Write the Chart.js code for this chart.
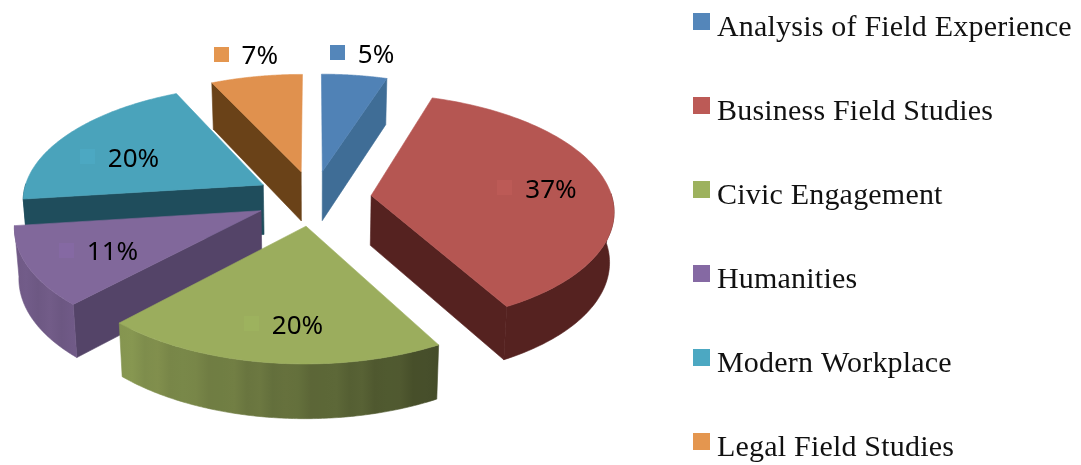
<!DOCTYPE html>
<html><head><meta charset="utf-8">
<style>html,body{margin:0;padding:0;background:#fff;overflow:hidden}#w{width:1081px;height:465px;position:relative}</style>
<script src="https://cdn.jsdelivr.net/npm/chart.js@4/dist/chart.umd.min.js"></script>
</head><body><div id="w"><canvas id="c"></canvas></div>
<script>
const categories = ['Analysis of Field Experience','Business Field Studies','Civic Engagement','Humanities','Modern Workplace','Legal Field Studies'];
const shares = [5,37,20,11,20,7];
const keyColors = ['#5486BA','#BC5A56','#9DB25E','#8569A3','#4CA8C2','#E4964F'];
const topColors = ['#5082B6','#B55652','#9BAD5D','#81689B','#4AA3BB','#E0914E'];
const cutColors = ['#3F6D96','#552220','#475727','#544468','#1F4D5C','#6A4218'];
const rimIsCut = [true,true,false,false,true,true];
const labelReach = [1.27,0.7,0.74,0.71,0.68,1.27];
const labelTurn = [0,0,-1,0,-6.5,0];
const paintOrder = [0,5,4,1,3,2];
const stripes = [0,0.025,-0.015,0.02,-0.02,0.01,0.02,-0.02];

const view = {cx:313.5, cy:198, sx:241, sy:114.5, persp:0.117, depth:50, depthPersp:0.07, taper:0.015};
function project(u,v,z){
  const s = 1/(1-view.persp*v);
  return [view.cx+view.sx*u*s*(1-view.taper*z), view.cy+view.sy*v*s + z*view.depth/(1-view.depthPersp*v)];
}
function rgb(hex){return [1,3,5].map(i=>parseInt(hex.substr(i,2),16));}
function shade(hex,f){return 'rgb('+rgb(hex).map(c=>Math.round(Math.min(255,c*f))).join(',')+')';}
function wallFactor(a){ // a: chart angle; u=cos a, v=sin a
  const u=Math.cos(a);
  if(u<-0.68) return 0.86;
  if(u<0) return 0.62+(0.86-0.62)*(-u/0.68);
  if(u<0.485) return 0.62-(0.62-0.44)*(u/0.485);
  return 0.46;
}
function poly(ctx,pts,fill){
  ctx.beginPath();pts.forEach((p,i)=>i?ctx.lineTo(p[0],p[1]):ctx.moveTo(p[0],p[1]));ctx.closePath();
  ctx.fillStyle=fill;ctx.strokeStyle=fill;ctx.lineWidth=0.6;ctx.fill();ctx.stroke();
}
const pie3d = {
  id:'pie3d',
  beforeDatasetsDraw(chart){
    const ctx=chart.ctx, arcs=chart.getDatasetMeta(0).data;
    ctx.save();
    paintOrder.forEach(i=>{
      const arc=arcs[i], a0=arc.startAngle, a1=arc.endAngle, mid=(a0+a1)/2;
      const d=arc.options.offset/arc.outerRadius, ox=d*Math.cos(mid), oy=d*Math.sin(mid);
      const at=(a,r,z)=>project(ox+r*Math.cos(a),oy+r*Math.sin(a),z);
      // visible cut faces
      [[a0,a0-Math.PI/2],[a1,a1+Math.PI/2]].forEach(([a,n])=>{
        if(Math.sin(n)>0.05) poly(ctx,[at(a,0,0),at(a,1,0),at(a,1,1),at(a,0,1)],cutColors[i]);
      });
      // outer wall: one polygon, shaded across its width
      const samples=[];
      for(let k=0;k<=120;k++){const a=a0+(a1-a0)*k/120; if(Math.sin(a)>-0.02) samples.push(a);}
      if(samples.length>1){
        const upper=samples.map(a=>at(a,1,0)), lower=samples.map(a=>at(a,1,1)).reverse();
        const xs=upper.map(p=>p[0]), xMin=Math.min(...xs), xMax=Math.max(...xs);
        let fill=cutColors[i];
        if(!rimIsCut[i]){
          fill=ctx.createLinearGradient(xMin,0,xMax,0);
          const n=Math.max(2,Math.round((xMax-xMin)/13));
          for(let k=0;k<=n;k++){
            const x=xMin+(xMax-xMin)*k/n;
            // angle on the rim for this x, from the library's arc range
            let best=samples[0],bd=1e9;
            samples.forEach(a=>{const e=Math.abs(at(a,1,0)[0]-x);if(e<bd){bd=e;best=a;}});
            const f=wallFactor(best);
            const st=f<=0.46?0:stripes[k%stripes.length];
            fill.addColorStop(k/n,shade(topColors[i],f+st));
          }
        }
        poly(ctx,upper.concat(lower),fill);
      }
      // top face
      const top=[at(a0,0,0)];
      for(let k=0;k<=90;k++) top.push(at(a0+(a1-a0)*k/90,1,0));
      poly(ctx,top,topColors[i]);
    });
    // value labels
    ctx.textBaseline='alphabetic';ctx.textAlign='left';
    arcs.forEach((arc,i)=>{
      const a0=arc.startAngle,a1=arc.endAngle,mid=(a0+a1)/2;
      const d=arc.options.offset/arc.outerRadius,r=labelReach[i],t=mid+labelTurn[i]*Math.PI/180;
      const p=project(d*Math.cos(mid)+r*Math.cos(t),d*Math.sin(mid)+r*Math.sin(t),0);
      ctx.font='26px "Noto Sans"';
      const txt=shares[i]+'%',w=ctx.measureText(txt).width;
      const left=p[0]-(15+13+w)/2;
      ctx.fillStyle=keyColors[i];ctx.fillRect(Math.round(left),Math.round(p[1]-7.5),15,15);
      ctx.fillStyle='#000';ctx.fillText(txt,left+28,p[1]+10);
    });
    // legend
    ctx.font='30px "Liberation Serif"';
    ctx.letterSpacing='0.2px';
    categories.forEach((name,i)=>{
      const y=13+84*i;
      ctx.fillStyle=keyColors[i];ctx.fillRect(693,y,17,17);
      ctx.fillStyle='#111';ctx.fillText(name,717,y+23);
    });
    ctx.restore();
    return false;
  }
};
new Chart(document.getElementById('c'),{
  type:'pie',
  data:{labels:categories,datasets:[{data:shares,backgroundColor:topColors,offset:50,borderWidth:0}]},
  options:{responsive:true,maintainAspectRatio:false,animation:false,rotation:0,
    layout:{padding:0},plugins:{legend:{display:false},tooltip:{enabled:false}}},
  plugins:[pie3d]
});
</script></body></html>
